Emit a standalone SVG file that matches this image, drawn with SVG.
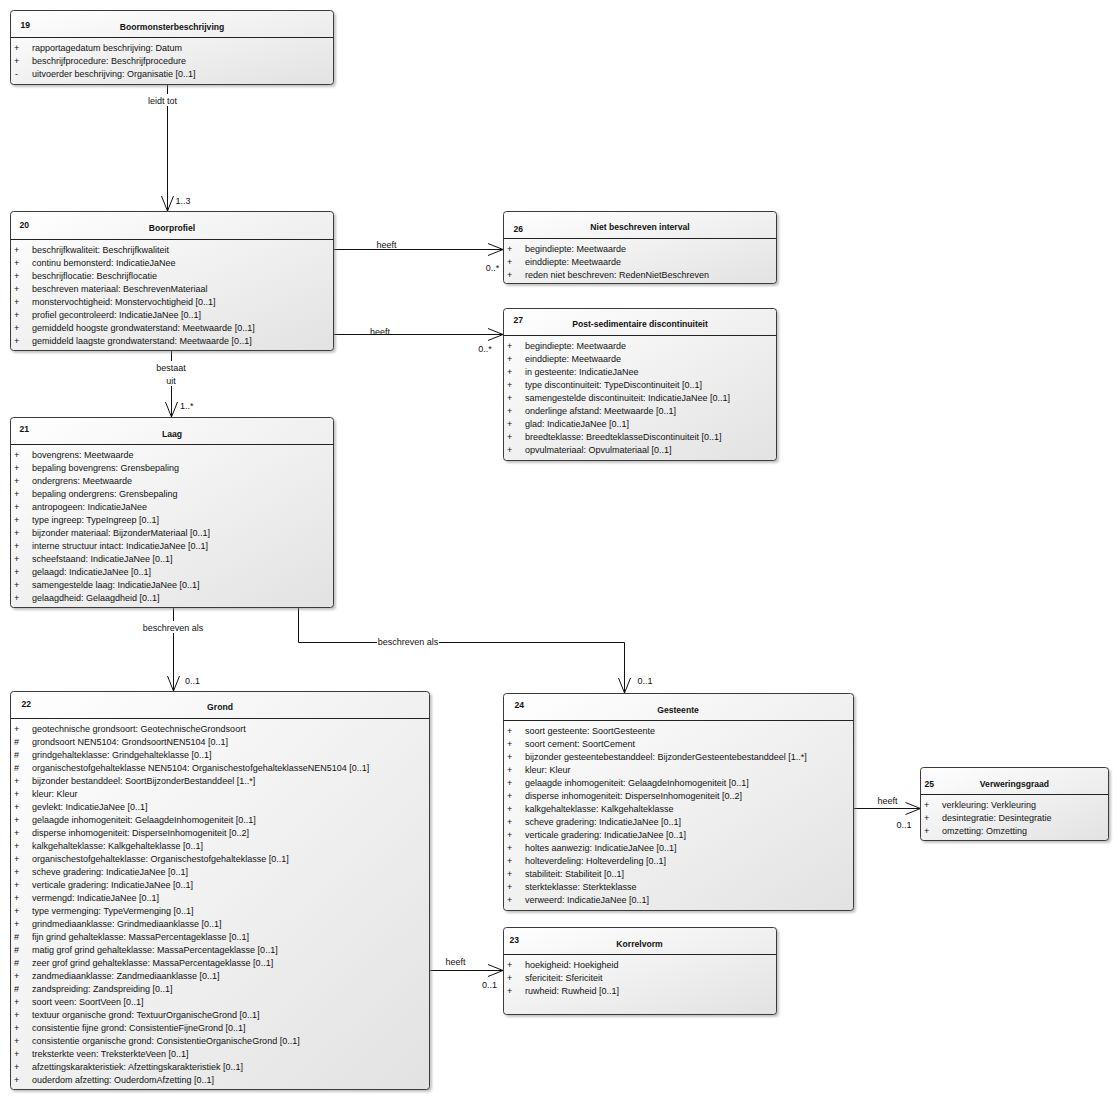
<svg xmlns="http://www.w3.org/2000/svg" width="1120" height="1101" viewBox="0 0 1120 1101">
<style>
text{font-family:"Liberation Sans",Arial,sans-serif;fill:#111}
.a{font-size:9px}
.h{font-size:8.6px;font-weight:bold}
.c{text-anchor:middle}
.box{fill:url(#g);stroke:#3a3a3a;stroke-width:1;filter:url(#sh)}
.div{stroke:#222;stroke-width:1}
.con{fill:none;stroke:#111;stroke-width:1}
.bg{fill:#fff}
</style>
<defs>
<linearGradient id="g" x1="0" y1="0" x2="1" y2="1">
<stop offset="0" stop-color="#ffffff"/>
<stop offset="1" stop-color="#e2e2e2"/>
</linearGradient>
<filter id="sh" x="-5%" y="-5%" width="110%" height="115%">
<feDropShadow dx="2" dy="2" stdDeviation="1.2" flood-color="#888" flood-opacity="0.5"/>
</filter>
<marker id="arr" markerUnits="userSpaceOnUse" markerWidth="20" markerHeight="16" viewBox="-16 -8 20 16" refX="0" refY="0" orient="auto">
<path d="M-15,-6 L0,0 L-15,6" fill="none" stroke="#111" stroke-width="1"/>
</marker>
</defs>

<g id="connectors">
<path class="con" d="M167.5 84.5 V211" marker-end="url(#arr)"/>
<rect class="bg" x="146" y="94" width="33" height="12"/>
<text class="a c" x="162.5" y="103.5">leidt tot</text>
<text class="a" x="175.5" y="203.5">1..3</text>

<path class="con" d="M333.5 249.5 H503" marker-end="url(#arr)"/>
<rect class="bg" x="374" y="240" width="25" height="9"/>
<text class="a c" x="386.5" y="248">heeft</text>
<text class="a c" x="492.5" y="270.5">0..*</text>

<path class="con" d="M333.5 334.5 H503" marker-end="url(#arr)"/>
<rect class="bg" x="367" y="327" width="25" height="7"/>
<text class="a c" x="380" y="335">heeft</text>
<text class="a c" x="485" y="352">0..*</text>

<path class="con" d="M171.5 350.5 V417" marker-end="url(#arr)"/>
<rect class="bg" x="154" y="361" width="34" height="25"/>
<text class="a c" x="171" y="370.5">bestaat</text>
<text class="a c" x="171" y="383.5">uit</text>
<text class="a" x="180" y="409">1..*</text>

<path class="con" d="M173.5 607.5 V691" marker-end="url(#arr)"/>
<rect class="bg" x="143" y="621" width="61" height="12"/>
<text class="a c" x="173" y="631">beschreven als</text>
<text class="a" x="185" y="684">0..1</text>

<path class="con" d="M298.5 607.5 V642.5 H624.5 V693" marker-end="url(#arr)"/>
<rect class="bg" x="377" y="636" width="62" height="12"/>
<text class="a c" x="408" y="645">beschreven als</text>
<text class="a" x="637.5" y="683.5">0..1</text>

<path class="con" d="M853.5 808.5 H920.5" marker-end="url(#arr)"/>
<text class="a c" x="887.5" y="804">heeft</text>
<text class="a c" x="904" y="828">0..1</text>

<path class="con" d="M429.5 970.5 H503" marker-end="url(#arr)"/>
<text class="a c" x="455.5" y="964.5">heeft</text>
<text class="a c" x="489.5" y="988">0..1</text>
</g>

<g id="n19">
<rect class="box" x="10.5" y="10.5" width="323" height="74" rx="3"/>
<line class="div" x1="10.5" y1="37.5" x2="333.5" y2="37.5"/>
<text class="h" x="20.5" y="28">19</text>
<text class="h c" x="172" y="29.5">Boormonsterbeschrijving</text>
<text class="a" x="14" y="51">+</text><text class="a" x="32" y="51">rapportagedatum beschrijving: Datum</text>
<text class="a" x="14" y="64">+</text><text class="a" x="32" y="64">beschrijfprocedure: Beschrijfprocedure</text>
<text class="a" x="15" y="77">-</text><text class="a" x="32" y="77">uitvoerder beschrijving: Organisatie [0..1]</text>
</g>

<g id="n20">
<rect class="box" x="10.5" y="211.5" width="323" height="139" rx="3"/>
<line class="div" x1="10.5" y1="239.5" x2="333.5" y2="239.5"/>
<text class="h" x="19.5" y="227.5">20</text>
<text class="h c" x="172" y="230.5">Boorprofiel</text>
<text class="a" x="14" y="252.5">+</text><text class="a" x="32" y="252.5">beschrijfkwaliteit: Beschrijfkwaliteit</text>
<text class="a" x="14" y="265.5">+</text><text class="a" x="32" y="265.5">continu bemonsterd: IndicatieJaNee</text>
<text class="a" x="14" y="278.5">+</text><text class="a" x="32" y="278.5">beschrijflocatie: Beschrijflocatie</text>
<text class="a" x="14" y="291.5">+</text><text class="a" x="32" y="291.5">beschreven materiaal: BeschrevenMateriaal</text>
<text class="a" x="14" y="304.5">+</text><text class="a" x="32" y="304.5">monstervochtigheid: Monstervochtigheid [0..1]</text>
<text class="a" x="14" y="317.5">+</text><text class="a" x="32" y="317.5">profiel gecontroleerd: IndicatieJaNee [0..1]</text>
<text class="a" x="14" y="330.5">+</text><text class="a" x="32" y="330.5">gemiddeld hoogste grondwaterstand: Meetwaarde [0..1]</text>
<text class="a" x="14" y="343.5">+</text><text class="a" x="32" y="343.5">gemiddeld laagste grondwaterstand: Meetwaarde [0..1]</text>
</g>

<g id="n26">
<rect class="box" x="503.5" y="211.5" width="273" height="72" rx="3"/>
<line class="div" x1="503.5" y1="238.5" x2="776.5" y2="238.5"/>
<text class="h" x="513.5" y="231.5">26</text>
<text class="h c" x="640" y="230">Niet beschreven interval</text>
<text class="a" x="507" y="251.5">+</text><text class="a" x="525" y="251.5">begindiepte: Meetwaarde</text>
<text class="a" x="507" y="264.5">+</text><text class="a" x="525" y="264.5">einddiepte: Meetwaarde</text>
<text class="a" x="507" y="277.5">+</text><text class="a" x="525" y="277.5">reden niet beschreven: RedenNietBeschreven</text>
</g>

<g id="n27">
<rect class="box" x="503.5" y="308.5" width="273" height="152" rx="3"/>
<line class="div" x1="503.5" y1="335.5" x2="776.5" y2="335.5"/>
<text class="h" x="513.5" y="322.5">27</text>
<text class="h c" x="640" y="327">Post-sedimentaire discontinuiteit</text>
<text class="a" x="507" y="349">+</text><text class="a" x="525" y="349">begindiepte: Meetwaarde</text>
<text class="a" x="507" y="362">+</text><text class="a" x="525" y="362">einddiepte: Meetwaarde</text>
<text class="a" x="507" y="375">+</text><text class="a" x="525" y="375">in gesteente: IndicatieJaNee</text>
<text class="a" x="507" y="388">+</text><text class="a" x="525" y="388">type discontinuiteit: TypeDiscontinuiteit [0..1]</text>
<text class="a" x="507" y="401">+</text><text class="a" x="525" y="401">samengestelde discontinuiteit: IndicatieJaNee [0..1]</text>
<text class="a" x="507" y="414">+</text><text class="a" x="525" y="414">onderlinge afstand: Meetwaarde [0..1]</text>
<text class="a" x="507" y="427">+</text><text class="a" x="525" y="427">glad: IndicatieJaNee [0..1]</text>
<text class="a" x="507" y="440">+</text><text class="a" x="525" y="440">breedteklasse: BreedteklasseDiscontinuiteit [0..1]</text>
<text class="a" x="507" y="453">+</text><text class="a" x="525" y="453">opvulmateriaal: Opvulmateriaal [0..1]</text>
</g>

<g id="n21">
<rect class="box" x="10.5" y="417.5" width="323" height="190" rx="3"/>
<line class="div" x1="10.5" y1="444.5" x2="333.5" y2="444.5"/>
<text class="h" x="19.5" y="432">21</text>
<text class="h c" x="172" y="436.5">Laag</text>
<text class="a" x="14" y="458">+</text><text class="a" x="32" y="458">bovengrens: Meetwaarde</text>
<text class="a" x="14" y="471">+</text><text class="a" x="32" y="471">bepaling bovengrens: Grensbepaling</text>
<text class="a" x="14" y="484">+</text><text class="a" x="32" y="484">ondergrens: Meetwaarde</text>
<text class="a" x="14" y="497">+</text><text class="a" x="32" y="497">bepaling ondergrens: Grensbepaling</text>
<text class="a" x="14" y="510">+</text><text class="a" x="32" y="510">antropogeen: IndicatieJaNee</text>
<text class="a" x="14" y="523">+</text><text class="a" x="32" y="523">type ingreep: TypeIngreep [0..1]</text>
<text class="a" x="14" y="536">+</text><text class="a" x="32" y="536">bijzonder materiaal: BijzonderMateriaal [0..1]</text>
<text class="a" x="14" y="549">+</text><text class="a" x="32" y="549">interne structuur intact: IndicatieJaNee [0..1]</text>
<text class="a" x="14" y="562">+</text><text class="a" x="32" y="562">scheefstaand: IndicatieJaNee [0..1]</text>
<text class="a" x="14" y="575">+</text><text class="a" x="32" y="575">gelaagd: IndicatieJaNee [0..1]</text>
<text class="a" x="14" y="588">+</text><text class="a" x="32" y="588">samengestelde laag: IndicatieJaNee [0..1]</text>
<text class="a" x="14" y="601">+</text><text class="a" x="32" y="601">gelaagdheid: Gelaagdheid [0..1]</text>
</g>

<g id="n22">
<rect class="box" x="10.5" y="691.5" width="419" height="398" rx="3"/>
<line class="div" x1="10.5" y1="718.5" x2="429.5" y2="718.5"/>
<text class="h" x="21.5" y="707">22</text>
<text class="h c" x="220" y="710">Grond</text>
<text class="a" x="14" y="731.5">+</text><text class="a" x="32" y="731.5">geotechnische grondsoort: GeotechnischeGrondsoort</text>
<text class="a" x="14" y="744.5">#</text><text class="a" x="32" y="744.5">grondsoort NEN5104: GrondsoortNEN5104 [0..1]</text>
<text class="a" x="14" y="757.5">#</text><text class="a" x="32" y="757.5">grindgehalteklasse: Grindgehalteklasse [0..1]</text>
<text class="a" x="14" y="770.5">#</text><text class="a" x="32" y="770.5">organischestofgehalteklasse NEN5104: OrganischestofgehalteklasseNEN5104 [0..1]</text>
<text class="a" x="14" y="783.5">+</text><text class="a" x="32" y="783.5">bijzonder bestanddeel: SoortBijzonderBestanddeel [1..*]</text>
<text class="a" x="14" y="796.5">+</text><text class="a" x="32" y="796.5">kleur: Kleur</text>
<text class="a" x="14" y="809.5">+</text><text class="a" x="32" y="809.5">gevlekt: IndicatieJaNee [0..1]</text>
<text class="a" x="14" y="822.5">+</text><text class="a" x="32" y="822.5">gelaagde inhomogeniteit: GelaagdeInhomogeniteit [0..1]</text>
<text class="a" x="14" y="835.5">+</text><text class="a" x="32" y="835.5">disperse inhomogeniteit: DisperseInhomogeniteit [0..2]</text>
<text class="a" x="14" y="848.5">+</text><text class="a" x="32" y="848.5">kalkgehalteklasse: Kalkgehalteklasse [0..1]</text>
<text class="a" x="14" y="861.5">+</text><text class="a" x="32" y="861.5">organischestofgehalteklasse: Organischestofgehalteklasse [0..1]</text>
<text class="a" x="14" y="874.5">+</text><text class="a" x="32" y="874.5">scheve gradering: IndicatieJaNee [0..1]</text>
<text class="a" x="14" y="887.5">+</text><text class="a" x="32" y="887.5">verticale gradering: IndicatieJaNee [0..1]</text>
<text class="a" x="14" y="900.5">+</text><text class="a" x="32" y="900.5">vermengd: IndicatieJaNee [0..1]</text>
<text class="a" x="14" y="913.5">+</text><text class="a" x="32" y="913.5">type vermenging: TypeVermenging [0..1]</text>
<text class="a" x="14" y="926.5">+</text><text class="a" x="32" y="926.5">grindmediaanklasse: Grindmediaanklasse [0..1]</text>
<text class="a" x="14" y="939.5">#</text><text class="a" x="32" y="939.5">fijn grind gehalteklasse: MassaPercentageklasse [0..1]</text>
<text class="a" x="14" y="952.5">#</text><text class="a" x="32" y="952.5">matig grof grind gehalteklasse: MassaPercentageklasse [0..1]</text>
<text class="a" x="14" y="965.5">#</text><text class="a" x="32" y="965.5">zeer grof grind gehalteklasse: MassaPercentageklasse [0..1]</text>
<text class="a" x="14" y="978.5">+</text><text class="a" x="32" y="978.5">zandmediaanklasse: Zandmediaanklasse [0..1]</text>
<text class="a" x="14" y="991.5">#</text><text class="a" x="32" y="991.5">zandspreiding: Zandspreiding [0..1]</text>
<text class="a" x="14" y="1004.5">+</text><text class="a" x="32" y="1004.5">soort veen: SoortVeen [0..1]</text>
<text class="a" x="14" y="1017.5">+</text><text class="a" x="32" y="1017.5">textuur organische grond: TextuurOrganischeGrond [0..1]</text>
<text class="a" x="14" y="1030.5">+</text><text class="a" x="32" y="1030.5">consistentie fijne grond: ConsistentieFijneGrond [0..1]</text>
<text class="a" x="14" y="1043.5">+</text><text class="a" x="32" y="1043.5">consistentie organische grond: ConsistentieOrganischeGrond [0..1]</text>
<text class="a" x="14" y="1056.5">+</text><text class="a" x="32" y="1056.5">treksterkte veen: TreksterkteVeen [0..1]</text>
<text class="a" x="14" y="1069.5">+</text><text class="a" x="32" y="1069.5">afzettingskarakteristiek: Afzettingskarakteristiek [0..1]</text>
<text class="a" x="14" y="1082.5">+</text><text class="a" x="32" y="1082.5">ouderdom afzetting: OuderdomAfzetting [0..1]</text>
</g>

<g id="n24">
<rect class="box" x="503.5" y="693.5" width="350" height="217" rx="3"/>
<line class="div" x1="503.5" y1="720.5" x2="853.5" y2="720.5"/>
<text class="h" x="514.5" y="708">24</text>
<text class="h c" x="678" y="712.5">Gesteente</text>
<text class="a" x="507" y="734">+</text><text class="a" x="525" y="734">soort gesteente: SoortGesteente</text>
<text class="a" x="507" y="747">+</text><text class="a" x="525" y="747">soort cement: SoortCement</text>
<text class="a" x="507" y="760">+</text><text class="a" x="525" y="760">bijzonder gesteentebestanddeel: BijzonderGesteentebestanddeel [1..*]</text>
<text class="a" x="507" y="773">+</text><text class="a" x="525" y="773">kleur: Kleur</text>
<text class="a" x="507" y="786">+</text><text class="a" x="525" y="786">gelaagde inhomogeniteit: GelaagdeInhomogeniteit [0..1]</text>
<text class="a" x="507" y="799">+</text><text class="a" x="525" y="799">disperse inhomogeniteit: DisperseInhomogeniteit [0..2]</text>
<text class="a" x="507" y="812">+</text><text class="a" x="525" y="812">kalkgehalteklasse: Kalkgehalteklasse</text>
<text class="a" x="507" y="825">+</text><text class="a" x="525" y="825">scheve gradering: IndicatieJaNee [0..1]</text>
<text class="a" x="507" y="838">+</text><text class="a" x="525" y="838">verticale gradering: IndicatieJaNee [0..1]</text>
<text class="a" x="507" y="851">+</text><text class="a" x="525" y="851">holtes aanwezig: IndicatieJaNee [0..1]</text>
<text class="a" x="507" y="864">+</text><text class="a" x="525" y="864">holteverdeling: Holteverdeling [0..1]</text>
<text class="a" x="507" y="877">+</text><text class="a" x="525" y="877">stabiliteit: Stabiliteit [0..1]</text>
<text class="a" x="507" y="890">+</text><text class="a" x="525" y="890">sterkteklasse: Sterkteklasse</text>
<text class="a" x="507" y="903">+</text><text class="a" x="525" y="903">verweerd: IndicatieJaNee [0..1]</text>
</g>

<g id="n25">
<rect class="box" x="920.5" y="767.5" width="188" height="73" rx="3"/>
<line class="div" x1="920.5" y1="794.5" x2="1108.5" y2="794.5"/>
<text class="h" x="924.5" y="787">25</text>
<text class="h c" x="1014.5" y="787">Verweringsgraad</text>
<text class="a" x="924" y="807.5">+</text><text class="a" x="942" y="807.5">verkleuring: Verkleuring</text>
<text class="a" x="924" y="820.5">+</text><text class="a" x="942" y="820.5">desintegratie: Desintegratie</text>
<text class="a" x="924" y="833.5">+</text><text class="a" x="942" y="833.5">omzetting: Omzetting</text>
</g>

<g id="n23">
<rect class="box" x="503.5" y="927.5" width="273" height="87" rx="3"/>
<line class="div" x1="503.5" y1="954.5" x2="776.5" y2="954.5"/>
<text class="h" x="509.5" y="943">23</text>
<text class="h c" x="639.5" y="947">Korrelvorm</text>
<text class="a" x="507" y="967.5">+</text><text class="a" x="525" y="967.5">hoekigheid: Hoekigheid</text>
<text class="a" x="507" y="980.5">+</text><text class="a" x="525" y="980.5">sfericiteit: Sfericiteit</text>
<text class="a" x="507" y="993.5">+</text><text class="a" x="525" y="993.5">ruwheid: Ruwheid [0..1]</text>
</g>
</svg>
